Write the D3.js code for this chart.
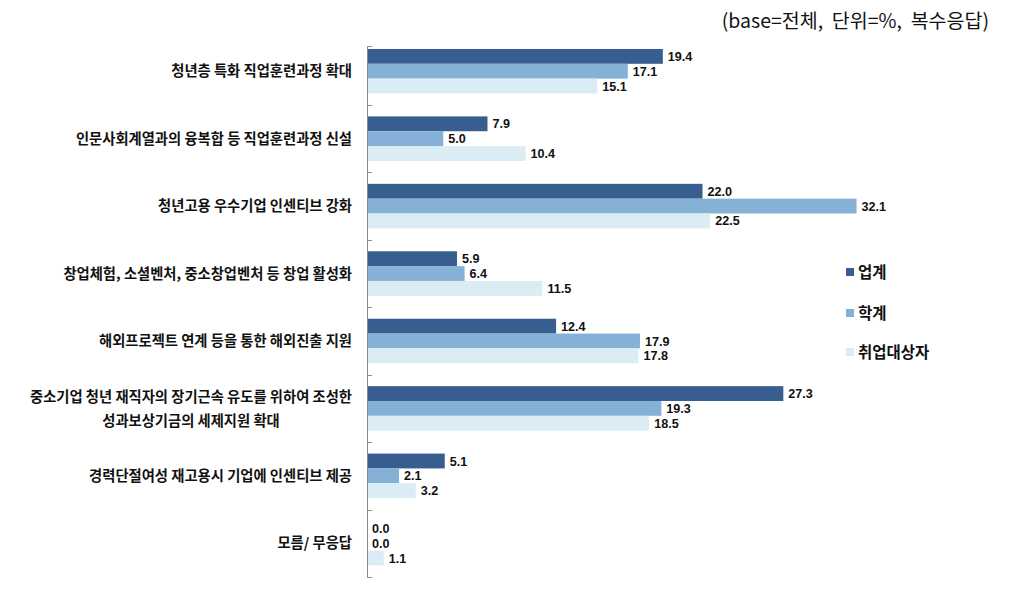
<!DOCTYPE html>
<html><head><meta charset="utf-8">
<script src="https://cdn.jsdelivr.net/npm/d3@7"></script>
<style>
body{margin:0;background:#fff;}
svg{display:block;}
</style></head>
<body>
<svg id="chart" width="1010" height="613"></svg>
<script>
const categories = [
  ["청년층 특화 직업훈련과정 확대"],
  ["인문사회계열과의 융복합 등 직업훈련과정 신설"],
  ["청년고용 우수기업 인센티브 강화"],
  ["창업체험, 소셜벤처, 중소창업벤처 등 창업 활성화"],
  ["해외프로젝트 연계 등을 통한 해외진출 지원"],
  ["중소기업 청년 재직자의 장기근속 유도를 위하여 조성한", "성과보상기금의 세제지원 확대"],
  ["경력단절여성 재고용시 기업에 인센티브 제공"],
  ["모름/ 무응답"]
];
const seriesNames = ["업계", "학계", "취업대상자"];
const industry = [19.4, 7.9, 22.0, 5.9, 12.4, 27.3, 5.1, 0.0];
const academia = [17.1, 5.0, 32.1, 6.4, 17.9, 19.3, 2.1, 0.0];
const jobSeekers = [15.1, 10.4, 22.5, 11.5, 17.8, 18.5, 3.2, 1.1];
const colors = ["#375e8f", "#86b1d6", "#dbecf4"];
const titleText = "(base=전체,\u00a0\u00a0단위=%,\u00a0\u00a0복수응답)";

const series = [industry, academia, jobSeekers];
const svg = d3.select("#chart");
const x0 = 367;
const x = d3.scaleLinear().domain([0, 35]).range([x0, x0 + 35 * 15.25]);
const idx = d3.range(categories.length);
const y = d3.scaleBand().domain(idx).range([37.5, 577]).paddingInner(0.34).paddingOuter(0.17);
const ySub = d3.scaleBand().domain(d3.range(3)).range([0, y.bandwidth()]);

// title
svg.append("text").attr("x", 989).attr("y", 28).attr("text-anchor", "end")
  .attr("font-family", "'Noto Sans CJK KR', sans-serif").attr("font-size", 19.5)
  .attr("fill", "#111").text(titleText);

// bars
const g = svg.append("g");
series.forEach((vals, s) => {
  g.selectAll(".b" + s).data(idx).join("rect")
    .attr("x", x(0))
    .attr("y", i => y(i) + ySub(s))
    .attr("width", i => x(vals[i]) - x(0))
    .attr("height", ySub.bandwidth())
    .attr("fill", colors[s]);
  g.selectAll(".l" + s).data(idx).join("text")
    .attr("x", i => x(vals[i]) + 5)
    .attr("y", i => y(i) + ySub(s) + ySub.bandwidth() / 2)
    .attr("dy", "0.36em")
    .attr("font-family", "'Liberation Sans', Arial, sans-serif")
    .attr("font-weight", "bold").attr("font-size", 12.6).attr("fill", "#111")
    .text(i => vals[i].toFixed(1));
});

// axis
const step = y.step();
const axisG = svg.append("g").attr("stroke", "#8a8a8a").attr("stroke-width", 1);
axisG.append("line").attr("x1", x0 + 0.5).attr("x2", x0 + 0.5).attr("y1", 46).attr("y2", 577.5);
axisG.append("line").attr("x1", x0 + 0.5).attr("x2", x0 + 5).attr("y1", 46.5).attr("y2", 46.5);
idx.forEach(i => {
  const yy = Math.round(y(i) - y.paddingOuter() * step + step) + 0.5;
  axisG.append("line").attr("x1", x0).attr("x2", x0 + 5).attr("y1", yy).attr("y2", yy);
});

// category labels
const labG = svg.append("g").attr("font-family", "'Noto Sans CJK KR', sans-serif")
  .attr("font-weight", "bold").attr("font-size", 14.3).attr("fill", "#111");
idx.forEach(i => {
  const lines = categories[i];
  const cy = y(i) + y.bandwidth() / 2;
  const lh = 24;
  const t0 = labG.append("text").attr("x", 352).attr("text-anchor", "end")
    .attr("y", cy - (lines.length - 1) * lh / 2).attr("dy", "0.36em").text(lines[0]);
  if (lines.length > 1) {
    const w = t0.node().getComputedTextLength();
    const cx = 352 - w / 2;
    for (let k = 1; k < lines.length; k++) {
      labG.append("text").attr("x", cx).attr("text-anchor", "middle")
        .attr("y", cy - (lines.length - 1) * lh / 2 + k * lh).attr("dy", "0.36em").text(lines[k]);
    }
  }
});

// legend
const legY = [272, 313, 352];
const leg = svg.append("g");
seriesNames.forEach((n, s) => {
  leg.append("rect").attr("x", 846).attr("y", legY[s] - 4).attr("width", 8).attr("height", 8).attr("fill", colors[s]);
  leg.append("text").attr("x", 858).attr("y", legY[s]).attr("dy", "0.36em")
    .attr("font-family", "'Noto Sans CJK KR', sans-serif").attr("font-weight", "bold")
    .attr("font-size", 15.5).attr("fill", "#111").text(n);
});
</script>
</body></html>
